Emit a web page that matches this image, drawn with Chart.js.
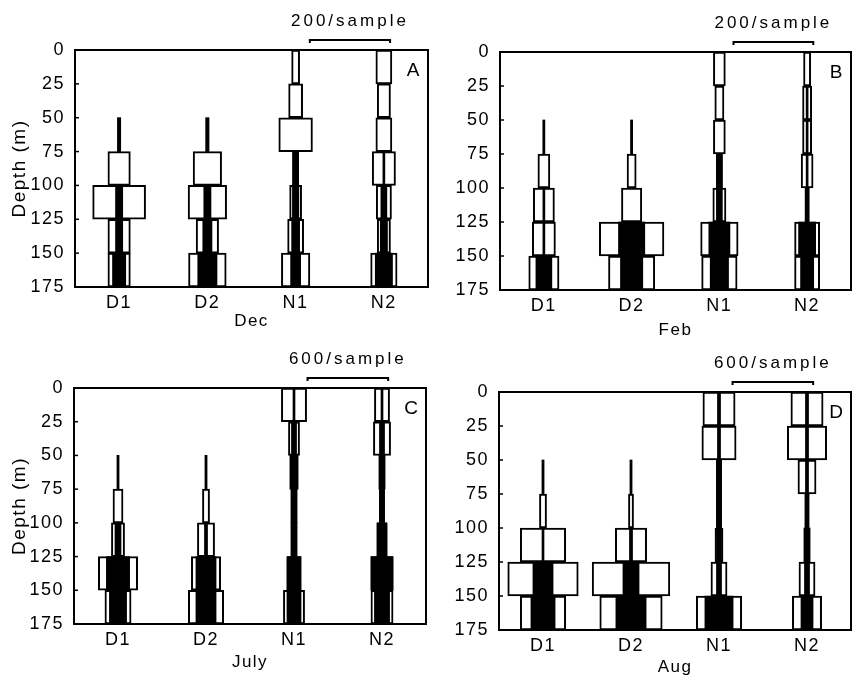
<!DOCTYPE html>
<html>
<head>
<meta charset="utf-8">
<script src="https://cdn.jsdelivr.net/npm/chart.js@4.4.0/dist/chart.umd.min.js"></script>
<style>
    body { margin: 0; background: #fff; }
    #wrap { position: relative; width: 852px; height: 680px; }
    #wrap canvas { position: absolute; left: 0; top: 0; }
</style>
</head>
<body>
<div id="wrap">
    <canvas id="panel_a" width="852" height="680"></canvas>
    <canvas id="panel_b" width="852" height="680"></canvas>
    <canvas id="panel_c" width="852" height="680"></canvas>
    <canvas id="panel_d" width="852" height="680"></canvas>
</div>
<script>
// depth bins (m) and tick labels
const depth_bins = ['0-25', '25-50', '50-75', '75-100', '100-125', '125-150', '150-175'];
const depth_ticks = [0, 25, 50, 75, 100, 125, 150, 175];
const samples = ['D1', 'D2', 'N1', 'N2'];
const months = ['Dec', 'Feb', 'July', 'Aug'];
const scale_bars = [200, 200, 600, 600];

// numbers per sample, one row per sample (D1, D2, N1, N2), one value per depth bin
// total = white box, black = inner black bar
const dec_total = [
    [0, 0, 8, 56, 132, 56, 56],
    [0, 0, 8, 71, 96, 56, 94],
    [20, 35, 84, 15, 30, 40, 71],
    [40, 33, 40, 58, 38, 33, 66]
];
const dec_black = [
    [0, 0, 8, 0, 18, 18, 33],
    [0, 0, 8, 0, 18, 23, 48],
    [0, 0, 0, 15, 16, 20, 25],
    [0, 0, 0, 5, 15, 18, 43]
];
const feb_total = [
    [0, 0, 5, 30, 53, 58, 76],
    [0, 0, 5, 23, 51, 162, 116],
    [30, 23, 30, 15, 33, 94, 89],
    [18, 23, 23, 30, 10, 63, 63]
];
const feb_black = [
    [0, 0, 5, 0, 5, 5, 40],
    [0, 0, 5, 0, 0, 66, 56],
    [0, 0, 0, 15, 15, 53, 46],
    [0, 5, 5, 5, 10, 43, 33]
];
const july_total = [
    [0, 0, 15, 75, 98, 293, 195],
    [0, 0, 15, 53, 128, 218, 263],
    [188, 83, 60, 45, 45, 105, 158],
    [113, 128, 45, 38, 75, 165, 165]
];
const july_black = [
    [0, 0, 15, 0, 45, 173, 128],
    [0, 0, 15, 0, 23, 150, 150],
    [15, 38, 60, 45, 45, 105, 105],
    [15, 38, 45, 38, 75, 165, 113]
];
const aug_total = [
    [0, 0, 15, 53, 338, 525, 338],
    [0, 0, 15, 38, 233, 578, 465],
    [240, 255, 38, 38, 60, 120, 338],
    [240, 293, 135, 30, 45, 120, 218]
];
const aug_black = [
    [0, 0, 15, 0, 15, 150, 180],
    [0, 0, 15, 0, 23, 120, 225],
    [23, 23, 38, 38, 38, 38, 210],
    [23, 23, 23, 30, 45, 38, 90]
];

Chart.defaults.font.family = '"Liberation Sans", Arial, sans-serif';
Chart.defaults.font.size = 18;
Chart.defaults.color = '#000';

// frame, inward ticks, scale bar and panel letter
const frame_plugin = {
    id: 'frame',
    beforeDraw(chart) {
        chart.ctx.letterSpacing = '1.5px';
    },
    afterDraw(chart, args, opts) {
        const ctx = chart.ctx;
        const a = chart.chartArea;
        const xs = chart.scales.x;
        const yd = chart.scales.yd;
        ctx.save();
        ctx.strokeStyle = '#000';
        ctx.lineWidth = 2;
        ctx.strokeRect(a.left, a.top, a.right - a.left, a.bottom - a.top);

        ctx.lineWidth = 1.5;
        depth_ticks.forEach(v => {
            let y = yd.getPixelForValue(v);
            ctx.beginPath();
            ctx.moveTo(a.left, y);
            ctx.lineTo(a.left + 4, y);
            ctx.stroke();
        });

        let x1 = xs.getPixelForValue(3.57);
        let x0 = xs.getPixelForValue(3.57 - opts.bar / opts.per_slot);
        let yb = a.top - 10;
        ctx.lineWidth = 2;
        ctx.beginPath();
        ctx.moveTo(x0, yb + 3);
        ctx.lineTo(x0, yb);
        ctx.lineTo(x1, yb);
        ctx.lineTo(x1, yb + 3);
        ctx.stroke();

        ctx.fillStyle = '#000';
        ctx.textAlign = 'center';
        ctx.textBaseline = 'middle';
        ctx.font = '17px "Liberation Sans", Arial, sans-serif';
        ctx.letterSpacing = '3px';
        ctx.fillText(opts.bar + '/sample', (x0 + x1) / 2, a.top - 29);
        ctx.font = '19px "Liberation Sans", Arial, sans-serif';
        ctx.letterSpacing = '0px';
        ctx.fillText(opts.letter, a.right - 15, a.top + 21);
        ctx.restore();
    }
};

// one floating bar per depth bin, centred on the sample slot
function make_set(values, s, per_slot, fill, bw, order) {
    const c = s + 0.5;
    return {
        data: values.map(v => v > 0 ? [c - v / per_slot / 2, c + v / per_slot / 2] : null),
        backgroundColor: fill,
        borderColor: '#000',
        borderWidth: bw,
        borderSkipped: false,
        grouped: false,
        barPercentage: 1,
        categoryPercentage: 1,
        order: order
    };
}

function draw_panel(canvas_id, p) {
    const datasets = [];
    for (let s = 0; s < samples.length; s++) {
        datasets.push(make_set(p.total[s], s, p.per_slot, '#fff', 2, 1));
        datasets.push(make_set(p.black[s], s, p.per_slot, '#000', 0, 0));
    }

    new Chart(document.getElementById(canvas_id), {
        type: 'bar',
        data: { labels: depth_bins, datasets: datasets },
        plugins: [frame_plugin],
        options: {
            indexAxis: 'y',
            responsive: false,
            animation: false,
            layout: {
                padding: {
                    left: p.box.l - p.y_w,
                    top: p.box.t,
                    right: 852 - p.box.r,
                    bottom: 680 - p.box.b - p.x_h
                }
            },
            plugins: {
                legend: { display: false },
                tooltip: { enabled: false },
                frame: { bar: p.bar, per_slot: p.per_slot, letter: p.letter }
            },
            scales: {
                y: { type: 'category', display: false, offset: true },
                yd: {
                    type: 'linear',
                    position: 'left',
                    reverse: true,
                    offset: false,
                    min: 0,
                    max: 175,
                    afterBuildTicks(scale) { scale.ticks = depth_ticks.map(v => ({ value: v })); },
                    afterFit(scale) { scale.width = p.y_w; },
                    ticks: { padding: 10, autoSkip: false },
                    grid: { display: false, drawTicks: false, offset: false },
                    border: { display: false },
                    title: { display: p.y_title, text: 'Depth (m)', padding: 0, font: { size: 19 } }
                },
                x: {
                    type: 'linear',
                    min: 0,
                    max: 4,
                    offset: false,
                    afterBuildTicks(scale) { scale.ticks = [0.5, 1.5, 2.5, 3.5].map(v => ({ value: v })); },
                    afterFit(scale) { scale.height = p.x_h; },
                    ticks: {
                        padding: 5,
                        autoSkip: false,
                        maxRotation: 0,
                        callback: (v, i) => samples[i]
                    },
                    grid: { display: false, drawTicks: false },
                    border: { display: false },
                    title: { display: true, text: p.month, padding: 0, font: { size: 17 } }
                }
            }
        }
    });
}

draw_panel('panel_a', { letter: 'A', month: months[0], bar: scale_bars[0], total: dec_total, black: dec_black,
    per_slot: 220, box: { l: 75, t: 50, r: 428, b: 287 }, y_w: 67, x_h: 45, y_title: true });
draw_panel('panel_b', { letter: 'B', month: months[1], bar: scale_bars[1], total: feb_total, black: feb_black,
    per_slot: 220, box: { l: 500, t: 52, r: 851, b: 290 }, y_w: 64, x_h: 51, y_title: false });
draw_panel('panel_c', { letter: 'C', month: months[2], bar: scale_bars[2], total: july_total, black: july_black,
    per_slot: 655, box: { l: 74, t: 388, r: 426, b: 624 }, y_w: 66, x_h: 49, y_title: true });
draw_panel('panel_d', { letter: 'D', month: months[3], bar: scale_bars[3], total: aug_total, black: aug_black,
    per_slot: 655, box: { l: 499, t: 392, r: 851, b: 630 }, y_w: 64, x_h: 48, y_title: false });
</script>
</body>
</html>
